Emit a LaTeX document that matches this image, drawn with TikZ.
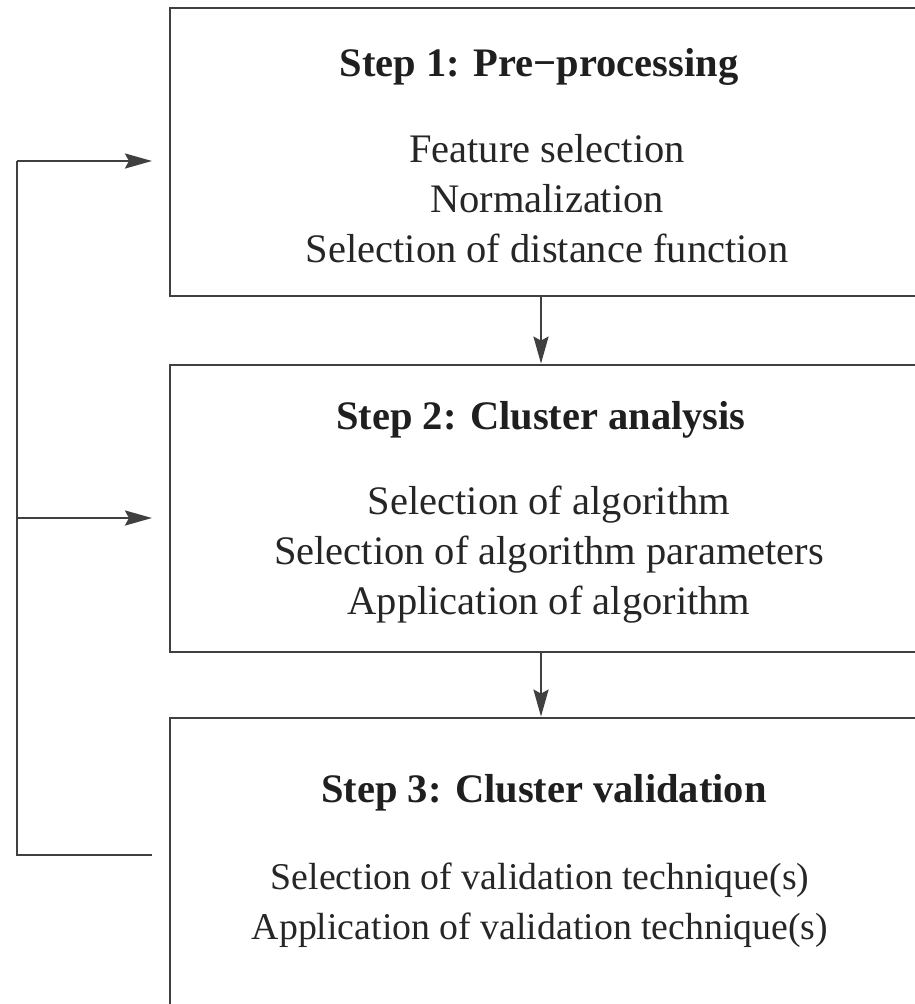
\documentclass[tikz,border=0pt]{standalone}
\usepackage{fontspec}
\setmainfont{Liberation Serif}
\usetikzlibrary{arrows.meta}
\begin{document}
\begin{tikzpicture}[x=1pt,y=-1pt,
  stepbox/.style={draw=black!75,line width=2.8pt,rectangle,minimum width=770pt,inner sep=0pt},
  ttl/.style={font=\fontsize{40.5}{48}\selectfont\bfseries,text=black!88,inner sep=0pt,anchor=center},
  body/.style={font=\fontsize{40.5}{50}\selectfont,text=black!85,align=center,inner sep=0pt,anchor=center},
  smallbody/.style={body,font=\fontsize{37.8}{50}\selectfont},
  conn/.style={draw=black!75,line width=2.6pt},
  arr/.style={conn,-{Stealth[length=27pt,width=15pt,inset=4pt]}}]
\useasboundingbox (0,0) rectangle (915,1004);
\node[stepbox,minimum height=288pt] (b1) at (555,152) {};
\node[stepbox,minimum height=287pt] (b2) at (555,508.5) {};
\node[stepbox,minimum height=300pt] (b3) at (555,868) {};
\node[ttl] (t1) at (539,67) {Step 1: Pre\textminus processing};
\node[body] (l1) at (547,199) {Feature selection\\Normalization\\Selection of distance function};
\node[ttl] (t2) at (541,420) {Step 2: Cluster analysis};
\node[body] (l2) at (549,555) {Selection of algorithm\\Selection of algorithm parameters\\Application of algorithm};
\node[ttl] (t3) at (544,793) {Step 3: Cluster validation};
\node[smallbody] (l3) at (540,905) {Selection of validation technique(s)\\Application of validation technique(s)};
\draw[arr] (b1.south -| 541,0) -- (b2.north -| 541,0);
\draw[arr] (b2.south -| 541,0) -- (b3.north -| 541,0);
\coordinate (f3) at (152,855);
\coordinate (c1) at (17,855);
\coordinate (c2) at (17,161);
\coordinate (e1) at (152,161);
\coordinate (m) at (17,518);
\coordinate (e2) at (152,518);
\draw[conn] (f3) -- (c1) -- (c2);
\draw[arr] (c2) -- (e1);
\draw[arr] (m) -- (e2);
\end{tikzpicture}
\end{document}
